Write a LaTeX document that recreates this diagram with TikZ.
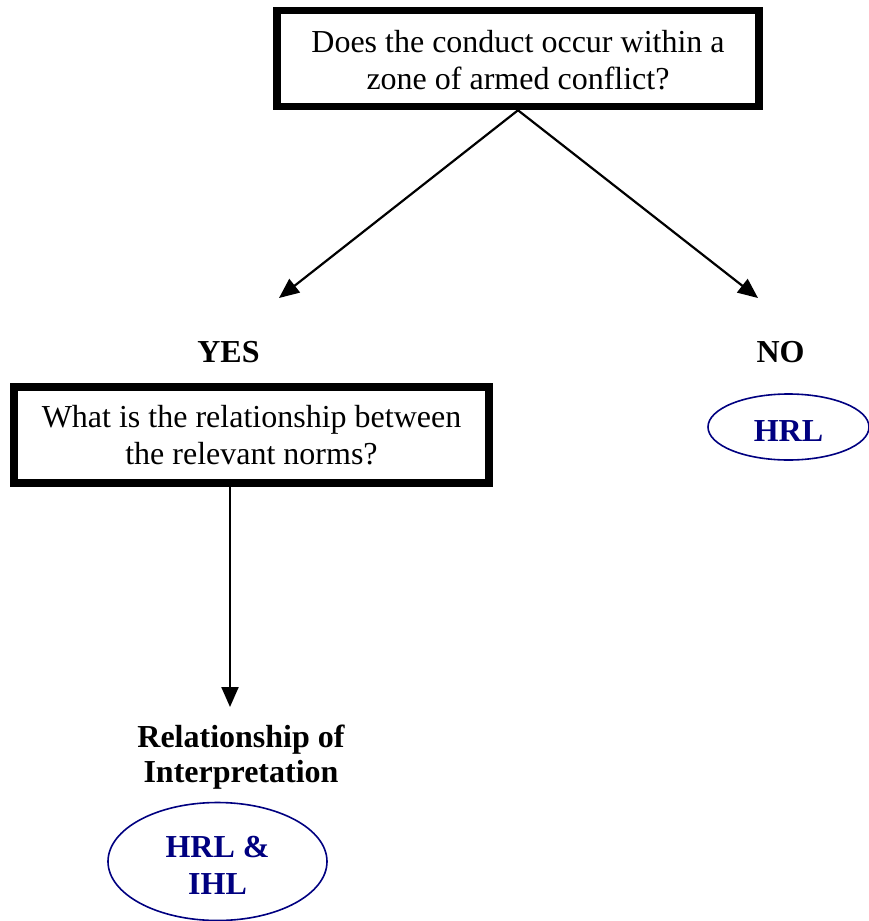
\documentclass[tikz,border=0pt]{standalone}
\usepackage{fontspec}
\setmainfont{Liberation Serif}
\usetikzlibrary{shapes.geometric,arrows.meta}
\definecolor{navyblue}{RGB}{0,0,128}
\newcommand{\tallstrut}[1]{\rule{0pt}{#1}}
\tikzset{
  qbox/.style={draw=black, line width=7.5pt, fill=white, align=center, inner sep=0pt,
     font=\fontsize{32}{37}\selectfont},
  lbl/.style={align=center, inner sep=0pt, font=\fontsize{32}{35}\selectfont\bfseries},
  oval/.style={ellipse, draw=navyblue, line width=1.6pt, align=center, inner sep=0pt,
     text=navyblue, font=\fontsize{32}{37}\selectfont\bfseries},
  arr/.style={line width=2.2pt, -{Triangle[length=20pt,width=17pt]}}
}
\begin{document}
\begin{tikzpicture}[x=1pt,y=-1pt]
\useasboundingbox (0,0) rectangle (869,921);
\node[qbox, minimum width=482pt, minimum height=96pt] (q1) at (518,58.5)
  {\tallstrut{26pt}Does the conduct occur within a\\zone of armed conflict?};
\node[qbox, minimum width=475pt, minimum height=96pt] (q2) at (251.5,435)
  {What is the relationship between\\the relevant norms?};
\coordinate (yesend) at (279,298);
\coordinate (noend) at (758,298);
\coordinate (relend) at (230,707);
\draw[arr] (q1.south) -- (yesend);
\draw[arr] (q1.south) -- (noend);
\draw[arr] (q2.south -| relend) -- (relend);
\node[lbl] (yes) at (228.5,352.5) {YES};
\node[lbl] (no) at (780.5,352.5) {NO};
\node[oval, minimum width=161pt, minimum height=66pt] (hrl) at (788.5,427)
  {\tallstrut{29pt}HRL};
\node[lbl] (rel) at (241,757) {Relationship of\\Interpretation};
\node[oval, minimum width=219pt, minimum height=118pt] (both) at (217.5,861.5)
  {\tallstrut{28pt}HRL \&\\IHL};
\end{tikzpicture}
\end{document}
